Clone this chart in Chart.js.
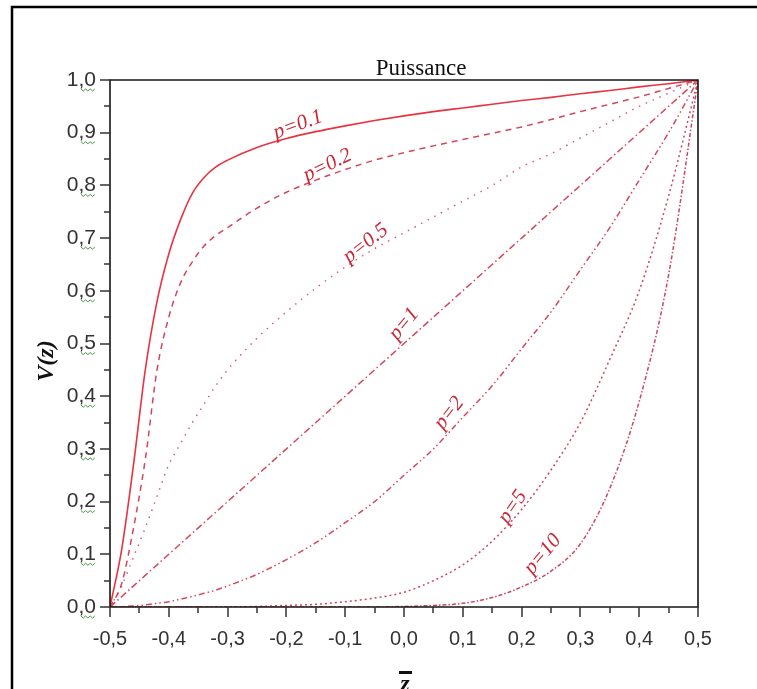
<!DOCTYPE html>
<html>
<head>
<meta charset="utf-8">
<script src="https://cdn.jsdelivr.net/npm/chart.js@4"></script>
<style>
  html, body { margin: 0; padding: 0; background: #fff; }
  #wrap { width: 757px; height: 689px; }
</style>
</head>
<body>
<div id="wrap"><canvas id="chart" width="757" height="689"></canvas></div>
<script>
const zValues = [-0.5, -0.48, -0.46, -0.44, -0.42, -0.4, -0.38, -0.36, -0.34, -0.32, -0.3,
    -0.25, -0.2, -0.15, -0.1, -0.05, 0, 0.05, 0.1, 0.15, 0.2, 0.25, 0.3, 0.35, 0.4, 0.45, 0.5];

const vP01 = [0, 0.11, 0.27, 0.45, 0.58, 0.67, 0.735, 0.785, 0.815, 0.835, 0.848,
    0.872, 0.889, 0.902, 0.913, 0.923, 0.932, 0.94, 0.947, 0.954, 0.961, 0.967, 0.974, 0.98, 0.987, 0.993, 1.0];
const vP02 = [0, 0.045, 0.15, 0.28, 0.45, 0.55, 0.615, 0.655, 0.685, 0.705, 0.72,
    0.757, 0.787, 0.81, 0.83, 0.848, 0.862, 0.875, 0.887, 0.899, 0.911, 0.925, 0.94, 0.954, 0.968, 0.984, 1.0];
const vP05 = [0, 0.04, 0.095, 0.15, 0.21, 0.27, 0.31, 0.35, 0.385, 0.42, 0.45,
    0.51, 0.56, 0.605, 0.645, 0.68, 0.71, 0.74, 0.77, 0.8, 0.835, 0.86, 0.89, 0.92, 0.95, 0.975, 1.0];
const vP1 = [0, 0.02, 0.04, 0.06, 0.08, 0.1, 0.12, 0.14, 0.16, 0.18, 0.2,
    0.25, 0.3, 0.35, 0.4, 0.45, 0.5, 0.55, 0.6, 0.65, 0.7, 0.75, 0.8, 0.85, 0.9, 0.95, 1.0];
const vP2 = [0, 0.0005, 0.002, 0.004, 0.007, 0.01, 0.015, 0.02, 0.026, 0.032, 0.04,
    0.062, 0.09, 0.122, 0.16, 0.2, 0.25, 0.3, 0.36, 0.42, 0.49, 0.56, 0.64, 0.72, 0.81, 0.9, 1.0];
const vP5 = [0, 0, 0, 0, 0, 0, 0, 0, 0, 0, 0,
    0.001, 0.003, 0.005, 0.01, 0.017, 0.028, 0.05, 0.08, 0.125, 0.185, 0.26, 0.35, 0.47, 0.6, 0.78, 1.0];
const vP10 = [0, 0, 0, 0, 0, 0, 0, 0, 0, 0, 0,
    0, 0, 0, 0, 0, 0.001, 0.003, 0.007, 0.018, 0.038, 0.068, 0.12, 0.225, 0.39, 0.63, 1.0];

const seriesNames = ["p=0.1", "p=0.2", "p=0.5", "p=1", "p=2", "p=5", "p=10"];
const seriesValues = [vP01, vP02, vP05, vP1, vP2, vP5, vP10];

const xTicks = [-0.5, -0.4, -0.3, -0.2, -0.1, 0, 0.1, 0.2, 0.3, 0.4, 0.5];
const yTicks = [0, 0.1, 0.2, 0.3, 0.4, 0.5, 0.6, 0.7, 0.8, 0.9, 1.0];

const chartTitle = "Puissance";

// line look per curve
const dashes = [[], [6, 5], [1.5, 6], [7, 3, 1.5, 3], [6, 3, 1.5, 3, 1.5, 3], [2, 3], [4, 2, 1.5, 2]];
const colours = ["rgb(232,52,64)", "rgb(210,70,90)", "rgb(215,95,115)", "rgb(212,72,92)",
    "rgb(212,72,92)", "rgb(205,70,95)", "rgb(205,70,95)"];

// where each p=... tag sits along its curve
const tagPlace = [
    { z: -0.18, v: 0.915, a: -20 },
    { z: -0.13, v: 0.838, a: -26 },
    { z: -0.065, v: 0.69, a: -38 },
    { z: 0.0, v: 0.537, a: -50 },
    { z: 0.077, v: 0.368, a: -52 },
    { z: 0.185, v: 0.19, a: -55 },
    { z: 0.236, v: 0.1, a: -50 },
];

const fmt = (v) => (Math.abs(v) < 1e-9 ? 0 : v).toFixed(1).replace(".", ",");

const decor = {
    id: "decor",
    beforeDraw(chart) {
        const ctx = chart.ctx;
        ctx.save();
        ctx.fillStyle = "#fff";
        ctx.fillRect(0, 0, chart.width, chart.height);
        ctx.restore();
    },
    afterDraw(chart) {
        const { ctx, chartArea: a, scales } = chart;
        const x = scales.x, y = scales.y;
        ctx.save();

        // outer frame
        ctx.strokeStyle = "#000";
        ctx.lineWidth = 2.5;
        ctx.beginPath();
        ctx.moveTo(12, 700);
        ctx.lineTo(12, 7);
        ctx.lineTo(770, 7);
        ctx.stroke();

        // plot box
        ctx.lineWidth = 1.6;
        ctx.strokeStyle = "#151515";
        ctx.beginPath();
        ctx.moveTo(a.left, a.bottom);
        ctx.lineTo(a.left, a.top);
        ctx.lineTo(a.right, a.top);
        ctx.lineTo(a.right, a.bottom);
        ctx.closePath();
        ctx.stroke();

        // major and minor ticks
        ctx.lineWidth = 1.5;
        ctx.strokeStyle = "#333";
        ctx.beginPath();
        for (let i = 0; i <= 20; i++) {
            const len = i % 2 === 0 ? 10 : 6;
            const px = Math.round(x.getPixelForValue(-0.5 + i * 0.05));
            ctx.moveTo(px, a.bottom);
            ctx.lineTo(px, a.bottom + len);
            const py = Math.round(y.getPixelForValue(i * 0.05));
            ctx.moveTo(a.left, py);
            ctx.lineTo(a.left - len, py);
        }
        ctx.stroke();

        // green squiggles under the y labels
        ctx.strokeStyle = "rgb(70,150,70)";
        ctx.lineWidth = 1;
        yTicks.forEach((v) => {
            const py = y.getPixelForValue(v) + 9;
            ctx.beginPath();
            for (let k = 0; k <= 6; k++) {
                const sx = 81 + k * 2.3;
                const sy = py + (k % 2 === 0 ? 0 : 2);
                if (k === 0) ctx.moveTo(sx, sy); else ctx.lineTo(sx, sy);
            }
            ctx.stroke();
        });

        // title
        ctx.fillStyle = "#111";
        ctx.font = '23px "Liberation Serif"';
        ctx.textAlign = "center";
        ctx.textBaseline = "alphabetic";
        ctx.fillText(chartTitle, 421, 75);

        // axis titles
        ctx.font = 'bold italic 24px "Liberation Serif"';
        ctx.save();
        ctx.translate(47, 361);
        ctx.rotate(-Math.PI / 2);
        ctx.textBaseline = "middle";
        ctx.fillText("V(z)", 0, 0);
        ctx.restore();
        ctx.fillText("z", 405, 691);
        ctx.fillRect(399, 671, 13, 3);

        // curve tags
        ctx.fillStyle = "rgb(200,40,55)";
        ctx.font = 'italic 21px "Liberation Serif"';
        ctx.textBaseline = "middle";
        seriesNames.forEach((name, i) => {
            const t = tagPlace[i];
            ctx.save();
            ctx.translate(x.getPixelForValue(t.z), y.getPixelForValue(t.v));
            ctx.rotate(t.a * Math.PI / 180);
            ctx.fillText(name, 0, 0);
            ctx.restore();
        });

        ctx.restore();
    },
};

const datasets = seriesNames.map((name, i) => ({
    label: name,
    data: zValues.map((z, k) => ({ x: z, y: seriesValues[i][k] })),
    borderColor: colours[i],
    borderWidth: i === 0 ? 1.6 : 1.5,
    borderDash: dashes[i],
    pointRadius: 0,
    fill: false,
    cubicInterpolationMode: "monotone",
}));

new Chart(document.getElementById("chart"), {
    type: "line",
    data: { datasets: datasets },
    options: {
        responsive: false,
        animation: false,
        layout: { padding: { left: 0, right: 59, top: 80, bottom: 0 } },
        plugins: { legend: { display: false }, tooltip: { enabled: false } },
        scales: {
            x: {
                type: "linear",
                min: -0.5,
                max: 0.5,
                afterFit: (s) => { s.height = 82; },
                afterBuildTicks: (s) => { s.ticks = xTicks.map((v) => ({ value: v })); },
                grid: { display: false, drawTicks: false },
                border: { display: false },
                ticks: {
                    padding: 20,
                    color: "#333",
                    font: { family: "Liberation Sans", size: 20 },
                    callback: (v) => fmt(v),
                    maxRotation: 0,
                },
            },
            y: {
                type: "linear",
                min: 0,
                max: 1,
                afterFit: (s) => { s.width = 110; },
                afterBuildTicks: (s) => { s.ticks = yTicks.map((v) => ({ value: v })); },
                grid: { display: false, drawTicks: false },
                border: { display: false },
                ticks: {
                    padding: 14,
                    color: "#333",
                    font: { family: "Liberation Sans", size: 21 },
                    callback: (v) => fmt(v),
                },
            },
        },
    },
    plugins: [decor],
});
</script>
</body>
</html>
